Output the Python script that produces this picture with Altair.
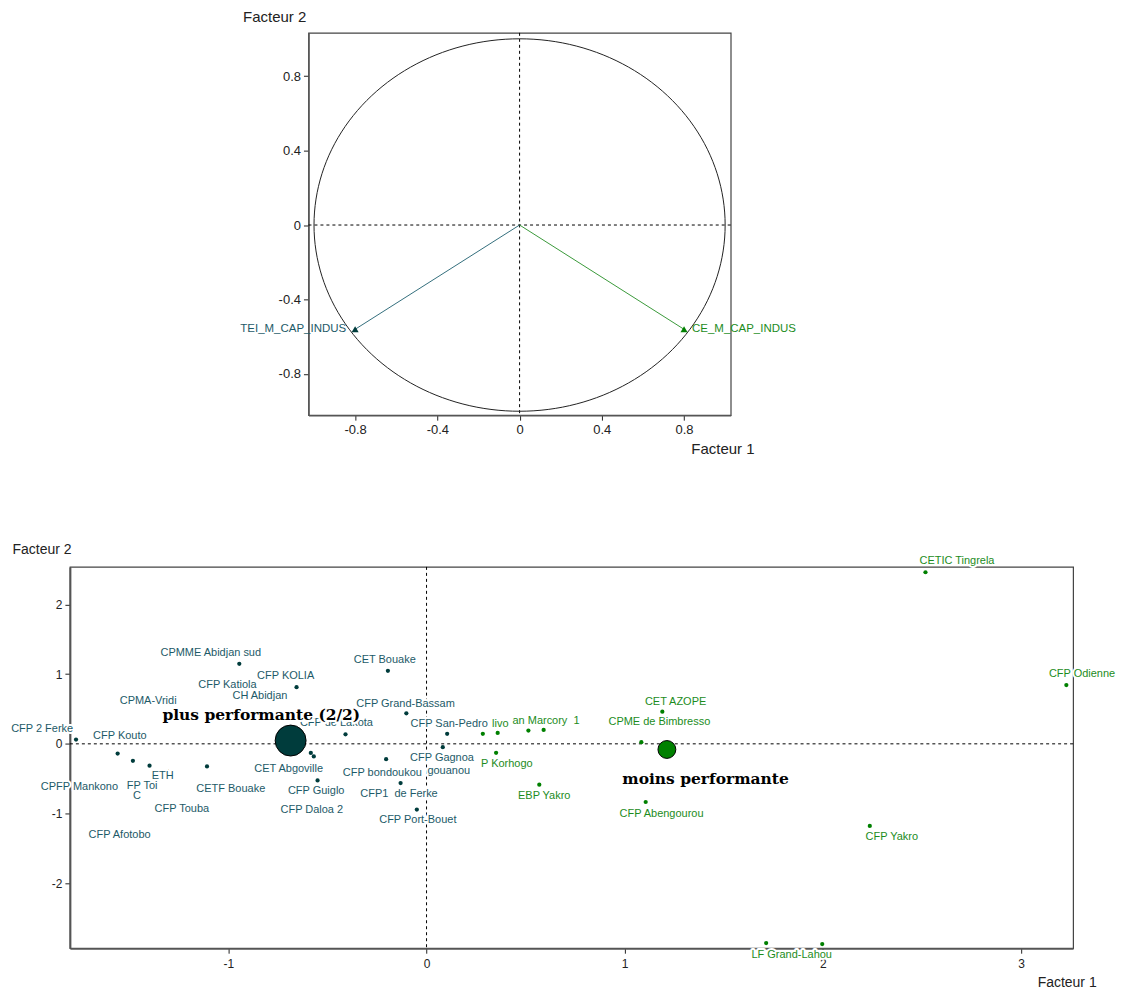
import altair as alt
import pandas as pd

# ---------------- top panel : variables (correlation circle) ----------------
var_names = ["TEI_M_CAP_INDUS", "CE_M_CAP_INDUS"]
var_f1 = [-0.80, 0.80]
var_f2 = [-0.56, -0.56]
var_class = ["plus", "moins"]

top_ticks = [-0.8, -0.4, 0, 0.4, 0.8]
bot_xticks = [-1, 0, 1, 2, 3]
bot_yticks = [-2, -1, 0, 1, 2]

# ---------------- bottom panel : individuals ----------------
ind_names = [
    "CFP 2 Ferke", "CFP Kouto", "CPFP Mankono", "CFP Toi", "CETH", "CETF Bouake",
    "CPMME Abidjan sud", "CFP KOLIA", "CET Bouake", "CFP de Lakota", "CFP Grand-Bassam",
    "CFP San-Pedro", "CFP Gagnoa", "CET Abgoville", "CFP Daloa 2", "CFP Guiglo",
    "CFP bondoukou", "CFP1 de Ferke", "CFP Port-Bouet",
    "livo", "an", "Marcory", "1", "P Korhogo", "EBP Yakro", "CET AZOPE",
    "CPME de Bimbresso", "CFP Abengourou", "CETIC Tingrela", "CFP Odienne",
    "CFP Yakro", "LF Grand-Lahou", "Grand-Lahou 2",
]
ind_f1 = [
    -1.769, -1.559, -1.482, -1.398, -1.309, -1.108,
    -0.945, -0.656, -0.195, -0.409, -0.102,
    0.104, 0.082, -0.584, -0.569, -0.550,
    -0.204, -0.131, -0.049,
    0.284, 0.359, 0.514, 0.591, 0.351, 0.569, 1.190,
    1.084, 1.106, 2.518, 3.229,
    2.237, 1.714, 1.997,
]
ind_f2 = [
    0.061, -0.139, -0.243, -0.314, -0.391, -0.324,
    1.147, 0.812, 1.047, 0.137, 0.437,
    0.143, -0.048, -0.130, -0.180, -0.524,
    -0.220, -0.563, -0.943,
    0.143, 0.157, 0.190, 0.200, -0.129, -0.586, 0.461,
    0.023, -0.834, 2.460, 0.843,
    -1.177, -2.857, -2.870,
]
ind_class = ["plus"] * 19 + ["moins"] * 14

lab_texts = [
    "CFP 2 Ferke", "CFP Kouto", "CPFP Mankono", "FP Toi", "C", "ETH", "CETF Bouake",
    "CFP Touba", "CFP Afotobo", "CPMA-Vridi", "CPMME Abidjan sud", "CFP Katiola",
    "CH Abidjan", "CFP KOLIA", "CET Bouake", "CFP de Lakota", "CFP Grand-Bassam",
    "CFP San-Pedro", "CFP Gagnoa", "gouanou", "CET Abgoville", "CFP Guiglo",
    "CFP Daloa 2", "CFP bondoukou", "CFP1\u00a0\u00a0de Ferke", "CFP Port-Bouet",
    "livo", "an Marcory\u00a0\u00a01", "P Korhogo", "EBP Yakro", "CET AZOPE",
    "CPME de Bimbresso", "CFP Abengourou", "CETIC Tingrela", "CFP Odienne",
    "CFP Yakro", "LF Grand-Lahou",
]
lab_f1 = [
    -1.940, -1.548, -1.752, -1.435, -1.462, -1.332, -0.988,
    -1.235, -1.549, -1.405, -1.089, -1.005,
    -0.841, -0.711, -0.211, -0.455, -0.106,
    0.114, 0.078, 0.112, -0.696, -0.557,
    -0.579, -0.223, -0.139, -0.044,
    0.372, 0.603, 0.405, 0.594, 1.257,
    1.175, 1.186, 2.677, 3.308,
    2.348, 1.843,
]
lab_f2 = [
    0.214, 0.109, -0.620, -0.610, -0.753, -0.467, -0.649,
    -0.939, -1.310, 0.609, 1.300, 0.843,
    0.690, 0.976, 1.204, 0.294, 0.571,
    0.286, -0.200, -0.391, -0.357, -0.677,
    -0.943, -0.420, -0.724, -1.096,
    0.286, 0.333, -0.296, -0.753, 0.604,
    0.309, -1.010, 2.619, 1.000,
    -1.334, -3.024,
]
lab_class = ["plus"] * 26 + ["moins"] * 11

class_names = ["plus performante (2/2)", "moins performante"]
class_key = ["plus", "moins"]
class_f1 = [-0.686, 1.213]
class_f2 = [0.047, -0.081]
class_lab_f1 = [-0.834, 1.408]
class_lab_f2 = [0.419, -0.500]

# ---------------- styles ----------------
DOT = {"plus": "#003c3c", "moins": "#008000"}
TXT = {"plus": "#1d5a68", "moins": "#1c8c1c"}
ARROW = {"plus": "#336e7c", "moins": "#3a9a3a"}
FONT = "Liberation Sans"

ax_common = dict(
    grid=False, ticks=True, tickSize=5, tickColor="#222", domainColor="#555",
    labelColor="#222", labelFont=FONT, titleFont=FONT, titleColor="#222",
    titleFontWeight="normal", labelExpr="toString(datum.value)",
    titleBaseline="middle", titleAlign="left",
)

# ================= TOP CHART =================
xs_t = alt.Scale(domain=[-1.027, 1.027], nice=False, zero=False)
ys_t = alt.Scale(domain=[-1.021, 1.032], nice=False, zero=False)
X_t = alt.X("f1:Q", scale=xs_t, axis=alt.Axis(
    values=top_ticks, labelFontSize=13, labelPadding=3, domainWidth=1.5,
    title="Facteur 1", titleFontSize=15, titleX=383, titleY=33, **ax_common))
Y_t = alt.Y("f2:Q", scale=ys_t, axis=alt.Axis(
    values=top_ticks, labelFontSize=13, labelPadding=3, domainWidth=1.5,
    title="Facteur 2", titleFontSize=15, titleAngle=0, titleX=-66, titleY=-16,
    **ax_common))

zero_df = pd.DataFrame({"f1": [0.0], "f2": [0.0]})
vars_df = pd.DataFrame({"name": var_names, "f1": var_f1, "f2": var_f2, "cls": var_class})

t_h = alt.Chart(zero_df).mark_rule(color="#000", strokeDash=[3, 3], strokeWidth=1).encode(y=Y_t)
t_v = alt.Chart(zero_df).mark_rule(color="#000", strokeDash=[3, 3], strokeWidth=1).encode(x=X_t)
circle = alt.Chart(alt.sequence(0, 361, 2, as_="t")).transform_calculate(
    f1="cos(datum.t*PI/180)", f2="sin(datum.t*PI/180)"
).mark_line(color="#222", strokeWidth=1).encode(x=X_t, y=Y_t, order="t:Q")

top_layers = [t_h, t_v, circle]
for k, align, dx in [("plus", "right", -9), ("moins", "left", 8)]:
    base = alt.Chart(vars_df).transform_filter(alt.datum.cls == k)
    top_layers.append(
        base.transform_calculate(o1="0", o2="0").mark_rule(color=ARROW[k], strokeWidth=1)
        .encode(x=X_t, y=Y_t, x2=alt.X2("o1:Q"), y2=alt.Y2("o2:Q")))
    top_layers.append(
        base.mark_point(shape="triangle-up", filled=True, size=50, opacity=1, color=DOT[k])
        .encode(x=X_t, y=Y_t))
    top_layers.append(
        base.mark_text(align=align, dx=dx, baseline="middle", font=FONT, fontSize=11.5, color=TXT[k])
        .encode(x=X_t, y=Y_t, text="name:N"))

top = alt.layer(*top_layers).properties(width=423, height=383)

spacer = alt.Chart(zero_df).mark_point(opacity=0).encode(
    x=alt.X("f1:Q", axis=None), y=alt.Y("f2:Q", axis=None)
).properties(width=239, height=10, view=alt.ViewBackground(strokeOpacity=0))

# ================= BOTTOM CHART =================
xs_b = alt.Scale(domain=[-1.80, 3.263], nice=False, zero=False)
ys_b = alt.Scale(domain=[-2.93, 2.537], nice=False, zero=False)
X_b = alt.X("f1:Q", scale=xs_b, axis=alt.Axis(
    values=bot_xticks, labelFontSize=12, labelPadding=5, domainWidth=2,
    title="Facteur 1", titleFontSize=14, titleX=969, titleY=34, **ax_common))
Y_b = alt.Y("f2:Q", scale=ys_b, axis=alt.Axis(
    values=bot_yticks, labelFontSize=12, labelPadding=3, domainWidth=2,
    title="Facteur 2", titleFontSize=14, titleAngle=0, titleX=-58, titleY=-17,
    **ax_common))

ind_df = pd.DataFrame({"name": ind_names, "f1": ind_f1, "f2": ind_f2, "cls": ind_class})
lab_df = pd.DataFrame({"text": lab_texts, "f1": lab_f1, "f2": lab_f2, "cls": lab_class})
cls_df = pd.DataFrame({"name": class_names, "cls": class_key, "f1": class_f1, "f2": class_f2})
cls_lab_df = pd.DataFrame({"name": class_names, "f1": class_lab_f1, "f2": class_lab_f2})

b_h = alt.Chart(zero_df).mark_rule(color="#000", strokeDash=[3, 3], strokeWidth=1).encode(y=Y_b)
b_v = alt.Chart(zero_df).mark_rule(color="#000", strokeDash=[3, 3], strokeWidth=1).encode(x=X_b)
bot_layers = [b_h, b_v]
for k in ["plus", "moins"]:
    bot_layers.append(
        alt.Chart(ind_df).transform_filter(alt.datum.cls == k)
        .mark_circle(size=18, opacity=1, color=DOT[k]).encode(x=X_b, y=Y_b))
bot_layers.append(
    alt.Chart(lab_df).mark_text(baseline="middle", align="center", font=FONT, fontSize=11,
                                fill="white", stroke="white", strokeWidth=4, strokeJoin="round")
    .encode(x=X_b, y=Y_b, text="text:N"))
for k in ["plus", "moins"]:
    bot_layers.append(
        alt.Chart(lab_df).transform_filter(alt.datum.cls == k)
        .mark_text(baseline="middle", align="center", font=FONT, fontSize=11, color=TXT[k])
        .encode(x=X_b, y=Y_b, text="text:N"))
for k, area in [("plus", 960), ("moins", 320)]:
    bot_layers.append(
        alt.Chart(cls_df).transform_filter(alt.datum.cls == k)
        .mark_circle(size=area, opacity=1, color=DOT[k], stroke="#000", strokeWidth=1)
        .encode(x=X_b, y=Y_b))
bot_layers.append(
    alt.Chart(cls_lab_df).mark_text(baseline="middle", align="center", font="DejaVu Serif",
                                    fontWeight="bold", fontSize=15.5, fill="white", stroke="white",
                                    strokeWidth=4, strokeJoin="round")
    .encode(x=X_b, y=Y_b, text="name:N"))
bot_layers.append(
    alt.Chart(cls_lab_df).mark_text(baseline="middle", align="center", font="DejaVu Serif",
                                    fontWeight="bold", fontSize=15.5, color="#000")
    .encode(x=X_b, y=Y_b, text="name:N"))

bottom = alt.layer(*bot_layers).properties(width=1005, height=382)

chart = alt.vconcat(
    alt.hconcat(spacer, top, spacing=0, bounds="flush"),
    bottom,
    spacing=535,
    bounds="flush",
).properties(
    padding={"left": 2, "top": 0, "right": 5, "bottom": 5}
).configure_view(stroke="#444", strokeWidth=1.2)

chart.save("out.html", embed_options={"renderer": "svg", "actions": False})
